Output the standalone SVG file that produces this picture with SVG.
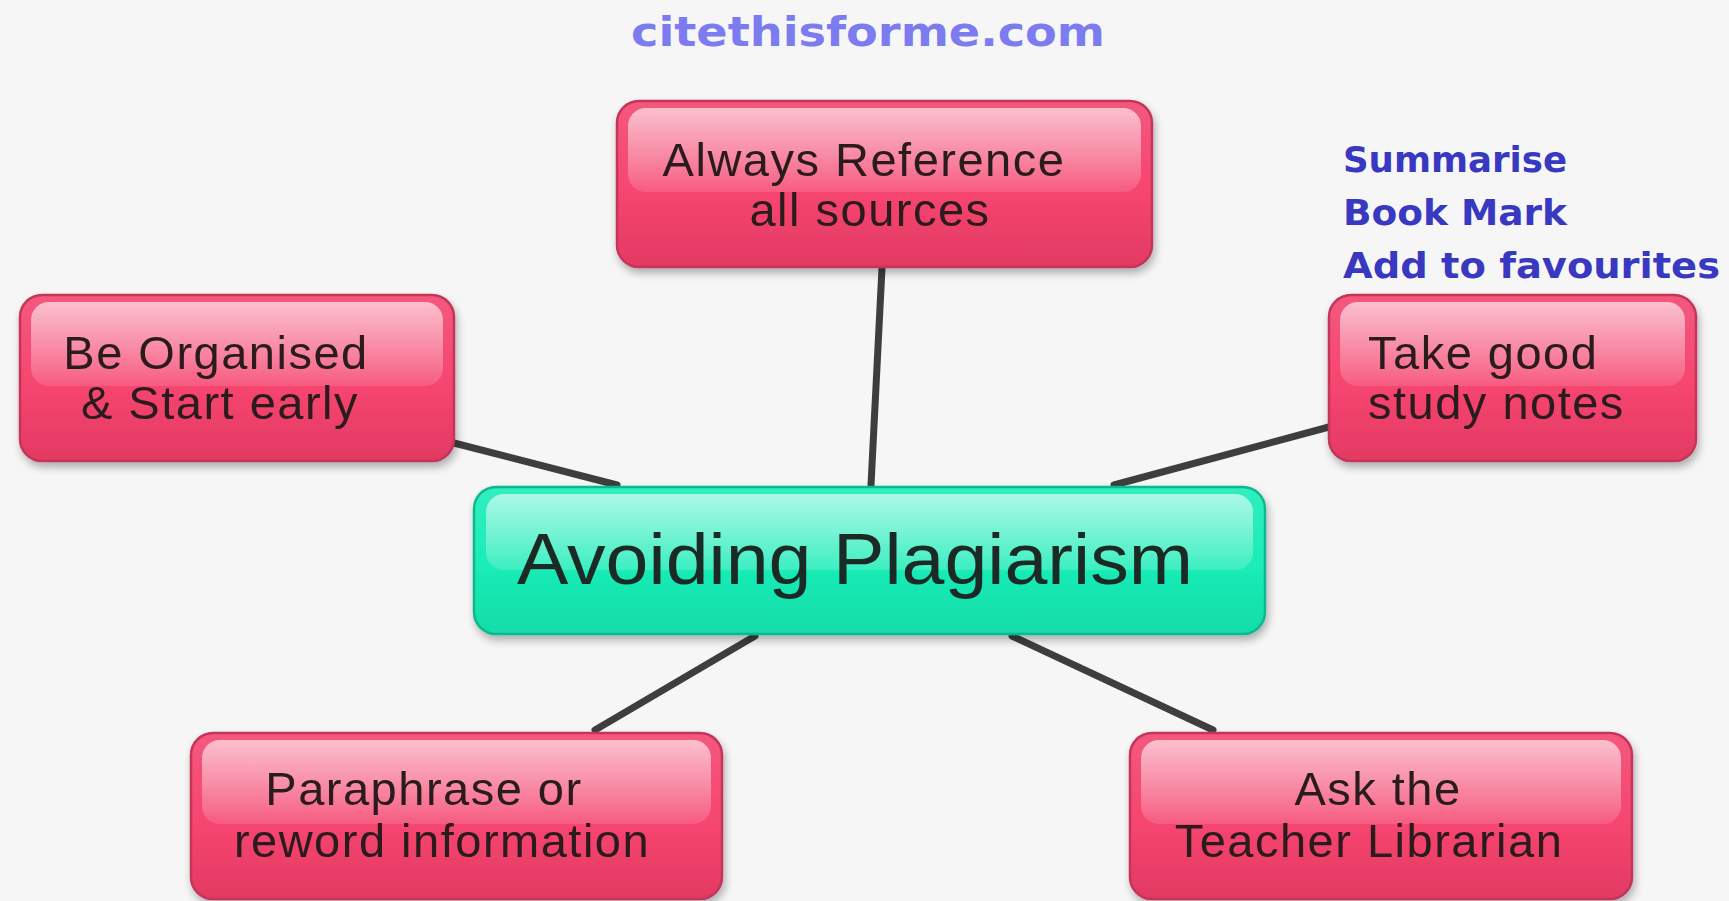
<svg xmlns="http://www.w3.org/2000/svg" width="1729" height="901" viewBox="0 0 1729 901">
<defs>
<linearGradient id="pinkG" x1="0" y1="0" x2="0" y2="1">
<stop offset="0" stop-color="#f4587e"/>
<stop offset="0.55" stop-color="#f6456f"/>
<stop offset="1" stop-color="#e23a63"/>
</linearGradient>
<linearGradient id="tealG" x1="0" y1="0" x2="0" y2="1">
<stop offset="0" stop-color="#30eec0"/>
<stop offset="0.55" stop-color="#1aecb6"/>
<stop offset="1" stop-color="#12dca8"/>
</linearGradient>
<linearGradient id="gloss" x1="0" y1="0" x2="0" y2="1">
<stop offset="0" stop-color="#ffffff" stop-opacity="0.62"/>
<stop offset="1" stop-color="#ffffff" stop-opacity="0.12"/>
</linearGradient>
<linearGradient id="glossT" x1="0" y1="0" x2="0" y2="1">
<stop offset="0" stop-color="#ffffff" stop-opacity="0.6"/>
<stop offset="1" stop-color="#ffffff" stop-opacity="0.15"/>
</linearGradient>
<filter id="sh" x="-10%" y="-10%" width="120%" height="130%">
<feGaussianBlur in="SourceAlpha" stdDeviation="4"/>
<feOffset dx="2" dy="5" result="b"/>
<feComponentTransfer><feFuncA type="linear" slope="0.3"/></feComponentTransfer>
<feMerge><feMergeNode/><feMergeNode in="SourceGraphic"/></feMerge>
</filter>
</defs>
<style>
.pink{fill:url(#pinkG);stroke:#c4355a;stroke-width:2.5}
.teal{fill:url(#tealG);stroke:#10b88c;stroke-width:2.5}
.gl{fill:url(#gloss)}
.lbl{font-family:"Liberation Sans",Arial,sans-serif;font-size:47px;fill:#2a1a1e;letter-spacing:1.5px}
.main{font-family:"Liberation Sans",Arial,sans-serif;font-size:72px;fill:#1a2a26}
.blue{font-family:"DejaVu Sans",sans-serif;font-weight:bold;font-size:36px;fill:#3838c0}
.site{font-family:"DejaVu Sans",sans-serif;font-weight:bold;font-size:40px;fill:#7c7cf0}
.conn line{stroke:#3e3e3e;stroke-width:7;stroke-linecap:round}
</style>
<rect width="1729" height="901" fill="#f6f6f6"/>
<text class="site" x="631" y="46" textLength="474" lengthAdjust="spacingAndGlyphs">citethisforme.com</text>
<g class="conn" id="connectors">
<line x1="882" y1="268" x2="871" y2="485"/>
<line x1="454" y1="443" x2="617" y2="485"/>
<line x1="1329" y1="427" x2="1114" y2="485"/>
<line x1="755" y1="636" x2="595" y2="730"/>
<line x1="1012" y1="636" x2="1213" y2="730"/>
</g>
<g id="node-reference" filter="url(#sh)">
<rect class="pink" x="617" y="101" width="535" height="166" rx="22"/>
<rect class="gl" x="628" y="108" width="513" height="84" rx="18"/>
<text class="lbl" text-anchor="middle"><tspan x="864" y="176">Always Reference</tspan><tspan x="870" y="226">all sources</tspan></text>
</g>
<g id="node-organised" filter="url(#sh)">
<rect class="pink" x="20" y="295" width="434" height="166" rx="22"/>
<rect class="gl" x="31" y="302" width="412" height="84" rx="18"/>
<text class="lbl" text-anchor="middle"><tspan x="216" y="369">Be Organised</tspan><tspan x="220" y="419">&amp; Start early</tspan></text>
</g>
<g id="node-notes" filter="url(#sh)">
<rect class="pink" x="1329" y="295" width="367" height="166" rx="22"/>
<rect class="gl" x="1340" y="302" width="345" height="84" rx="18"/>
<text class="lbl"><tspan x="1368" y="369">Take good</tspan><tspan x="1368" y="419">study notes</tspan></text>
</g>
<g id="note-tips">
<text class="blue"><tspan x="1343" y="172" textLength="224" lengthAdjust="spacingAndGlyphs">Summarise</tspan><tspan x="1343" y="225" textLength="224" lengthAdjust="spacingAndGlyphs">Book Mark</tspan><tspan x="1343" y="278" textLength="377" lengthAdjust="spacingAndGlyphs">Add to favourites</tspan></text>
</g>
<g id="node-center" filter="url(#sh)">
<rect class="teal" x="474" y="487" width="791" height="147" rx="22"/>
<rect x="486" y="494" width="767" height="76" rx="18" fill="url(#glossT)"/>
<text class="main" x="517" y="584" textLength="676" lengthAdjust="spacingAndGlyphs">Avoiding Plagiarism</text>
</g>
<g id="node-paraphrase" filter="url(#sh)">
<rect class="pink" x="191" y="733" width="531" height="166" rx="22"/>
<rect class="gl" x="202" y="740" width="509" height="84" rx="18"/>
<text class="lbl" text-anchor="middle"><tspan x="424" y="805">Paraphrase or</tspan><tspan x="442" y="857">reword information</tspan></text>
</g>
<g id="node-librarian" filter="url(#sh)">
<rect class="pink" x="1130" y="733" width="502" height="166" rx="22"/>
<rect class="gl" x="1141" y="740" width="480" height="84" rx="18"/>
<text class="lbl" text-anchor="middle"><tspan x="1378" y="805">Ask the</tspan><tspan x="1369" y="857">Teacher Librarian</tspan></text>
</g>
</svg>
